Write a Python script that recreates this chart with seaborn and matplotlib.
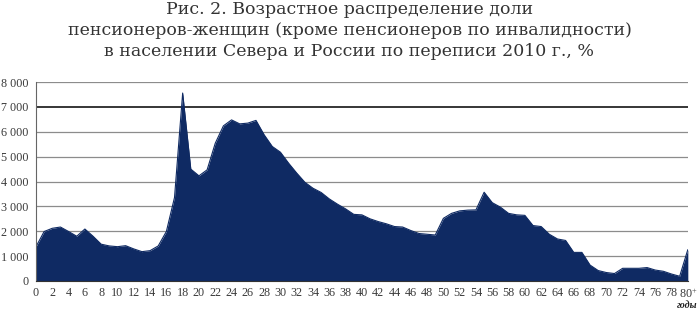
import numpy as np
import pandas as pd
import seaborn as sns
import matplotlib.pyplot as plt
from matplotlib.ticker import FuncFormatter, MultipleLocator

# age (years), 80 = 80 and older
ages = list(range(0, 81))
# number of female pensioners by age
values = [1380, 1990, 2120, 2170, 1990, 1800, 2090, 1800, 1480, 1410,
          1380, 1420, 1290, 1180, 1220, 1410, 1990, 3360, 7560, 4500,
          4230, 4470, 5540, 6240, 6480, 6320, 6350, 6460, 5880, 5410,
          5180, 4740, 4340, 3970, 3730, 3560, 3300, 3090, 2900, 2680,
          2660, 2500, 2390, 2300, 2190, 2170, 2030, 1910, 1880, 1850,
          2520, 2720, 2820, 2850, 2860, 3570, 3150, 2970, 2720, 2660,
          2640, 2230, 2190, 1880, 1690, 1630, 1150, 1150, 640, 420,
          340, 300, 510, 510, 510, 540, 440, 390, 280, 190,
          1260]
x_labels = [str(a) for a in range(0, 80, 2)] + ['80$^{+}$']

title = ("Рис. 2. Возрастное распределение доли\n"
         "пенсионеров-женщин (кроме пенсионеров по инвалидности)\n"
         "в населении Севера и России по переписи 2010 г., %")

df = pd.DataFrame({'age': ages, 'value': values})

sns.set_style('white')
plt.rcParams['font.family'] = ['Liberation Serif', 'DejaVu Serif']
plt.rcParams['mathtext.fontset'] = 'custom'
plt.rcParams['mathtext.rm'] = 'Liberation Serif'
plt.rcParams['mathtext.default'] = 'regular'

fig = plt.figure(figsize=(6.99, 3.11), dpi=100)
ax = fig.add_axes([0.0515, 0.0965, 0.9325, 0.6395])

navy = '#0f2a63'
sns.lineplot(data=df, x='age', y='value', color=navy, linewidth=0.8, ax=ax)
ax.fill_between(df['age'], df['value'], 0, color=navy, linewidth=0, zorder=2)

ax.set_xlim(0, 80)
ax.set_ylim(0, 8000)
ax.set_xlabel('')
ax.set_ylabel('')

# gridlines: grey, the 7000 line black
for yv in range(1000, 8001, 1000):
    ax.axhline(yv, color='black' if yv == 7000 else '#8c8c8c',
               linewidth=1.1 if yv == 7000 else 0.9, zorder=1)

ax.set_xticks(list(range(0, 81, 2)))
ax.set_xticklabels(x_labels)
ax.xaxis.set_minor_locator(MultipleLocator(1))
ax.yaxis.set_major_locator(MultipleLocator(1000))
ax.yaxis.set_major_formatter(FuncFormatter(lambda v, p: f'{int(v):,}'.replace(',', ' ')))

ax.tick_params(axis='both', which='major', direction='out', length=3, width=0.7,
               labelsize=8.7, colors='#3a3a3a', pad=1.5)
ax.tick_params(axis='x', which='minor', direction='out', length=3, width=0.7, color='#3a3a3a')
ax.tick_params(axis='y', length=4, pad=1.5)

for side in ['top', 'right']:
    ax.spines[side].set_visible(False)
ax.spines['left'].set_color('#666666')
ax.spines['left'].set_linewidth(0.8)
ax.spines['bottom'].set_color('#333333')
ax.spines['bottom'].set_linewidth(0.8)

fig.text(0.5, 0.998, title, ha='center', va='top', fontsize=12.5,
         family='DejaVu Serif', color='#333333', linespacing=1.33)
fig.text(0.998, 0.004, 'годы', ha='right', va='bottom', fontsize=7.2,
         style='italic', weight='bold', color='#222222')

fig.savefig('out.png', dpi=100)
